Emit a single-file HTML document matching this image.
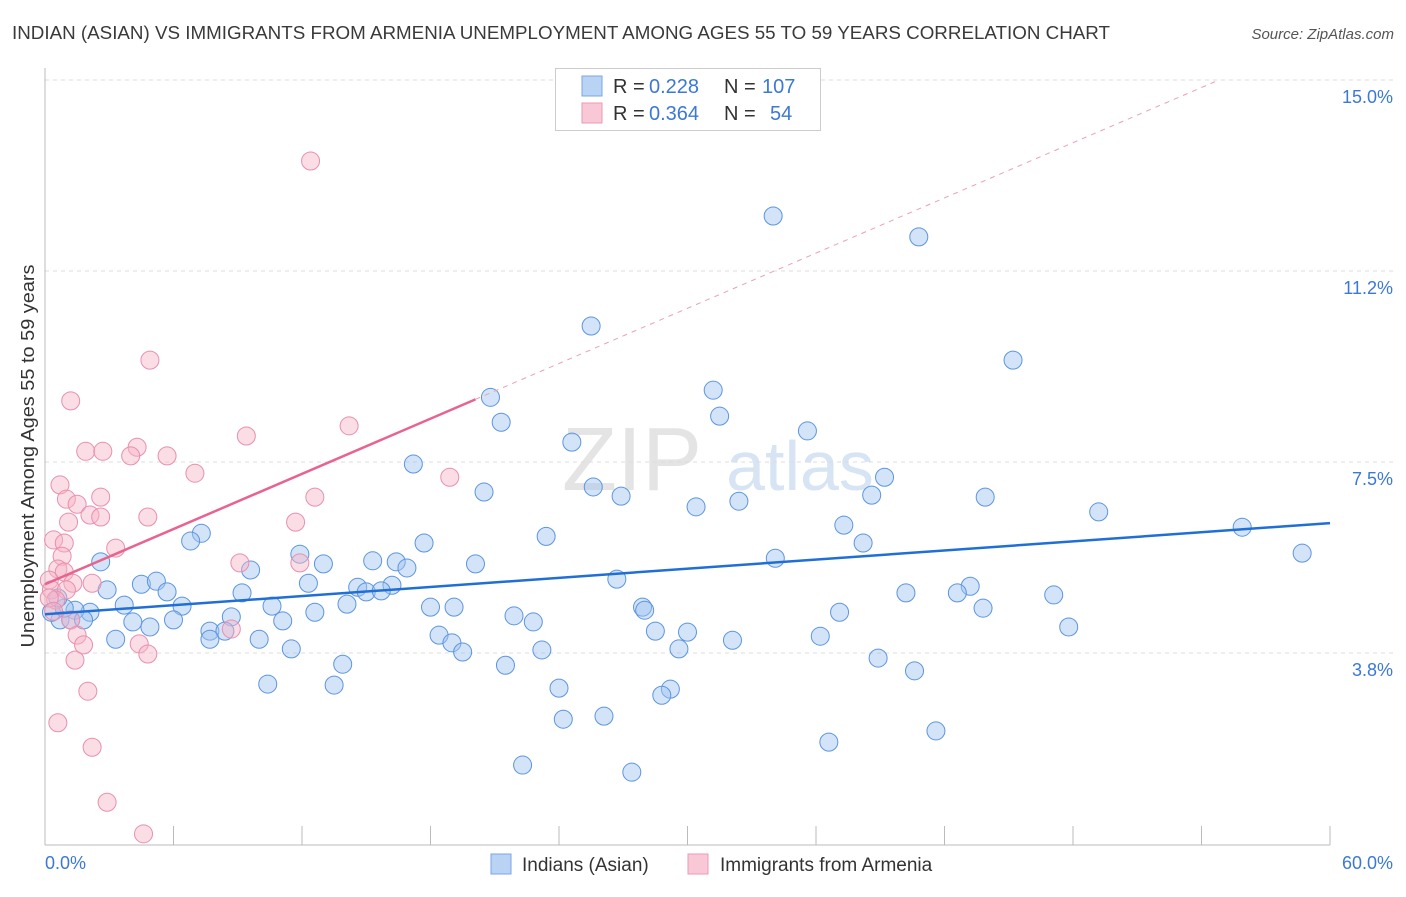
<!DOCTYPE html>
<html><head><meta charset="utf-8"><style>
body{margin:0;background:#fff;font-family:"Liberation Sans",sans-serif}
svg text{font-family:"Liberation Sans",sans-serif}
</style></head><body>
<svg id="c" width="1406" height="892">
<text x="12" y="39" font-size="18" fill="#3a3a3a" textLength="1098" lengthAdjust="spacingAndGlyphs">INDIAN (ASIAN) VS IMMIGRANTS FROM ARMENIA UNEMPLOYMENT AMONG AGES 55 TO 59 YEARS CORRELATION CHART</text>
<text x="1394" y="39" font-size="15" fill="#555" text-anchor="end" font-style="italic">Source: ZipAtlas.com</text>
<text x="632" y="490" font-size="90" fill="#e4e4e4" font-family="Liberation Serif" text-anchor="middle">ZIP</text>
<text x="800" y="490" font-size="70" fill="#d6e4f4" text-anchor="middle">atlas</text>
<g id="grid"></g><g id="pts"></g><g id="lines"></g>
<text transform="translate(34,456) rotate(-90)" font-size="18" fill="#333" text-anchor="middle" textLength="383" lengthAdjust="spacingAndGlyphs">Unemployment Among Ages 55 to 59 years</text>
<text x="45" y="869" font-size="18" fill="#3b78d8">0.0%</text>
<text x="1393" y="869" font-size="18" fill="#3b78d8" text-anchor="end">60.0%</text>
<g>
<rect x="555.5" y="68.5" width="265" height="62" fill="#fff" stroke="#ccc"/>
<rect x="582" y="76" width="20" height="20" fill="#b9d3f5" stroke="#7aa6e6"/>
<text x="613" y="93" font-size="20" fill="#333">R =</text>
<text x="649" y="93" font-size="20" fill="#3b78d8">0.228</text>
<text x="724" y="93" font-size="20" fill="#333">N =</text>
<text x="762" y="93" font-size="20" fill="#3b78d8">107</text>
<rect x="582" y="103" width="20" height="20" fill="#f9c8d7" stroke="#eb9ab5"/>
<text x="613" y="120" font-size="20" fill="#333">R =</text>
<text x="649" y="120" font-size="20" fill="#3b78d8">0.364</text>
<text x="724" y="120" font-size="20" fill="#333">N =</text>
<text x="770" y="120" font-size="20" fill="#3b78d8">54</text>
</g>
<g>
<rect x="491" y="854" width="20" height="20" fill="#b9d3f5" stroke="#7aa6e6"/>
<text x="522" y="871" font-size="19" fill="#333">Indians (Asian)</text>
<rect x="688" y="854" width="20" height="20" fill="#f9c8d7" stroke="#eb9ab5"/>
<text x="720" y="871" font-size="19" fill="#333">Immigrants from Armenia</text>
</g>
</svg>
<script>
const yTicks=[3.8,7.5,11.2,15.0];
const yTickVals=[3.75,7.5,11.25,15];
const xTicks=[0,6,12,18,24,30,36,42,48,54,60];
const blueX=[34.0,40.8,25.5,45.2,20.8,31.2,31.5,21.3,35.6,24.6,17.2,39.2,20.5,25.6,26.9,38.6,43.9,32.4,30.4,49.2,37.3,55.9,23.4,7.3,6.8,17.7,38.2,58.7,11.9,34.1,2.6,13.0,15.3,16.4,16.9,20.1,9.6,26.7,4.5,5.2,12.3,14.6,16.2,43.2,2.9,5.7,9.2,15.0,15.7,40.2,42.6,47.1,3.7,6.4,10.6,14.1,18.0,19.1,27.9,28.0,43.8,37.1,2.1,1.4,12.6,21.9,8.7,6.0,4.1,11.1,22.8,4.9,47.8,7.7,8.4,28.5,30.0,18.4,36.2,3.3,7.7,10.0,32.1,19.0,19.5,11.5,23.2,29.6,38.9,13.9,21.5,40.6,10.4,13.5,24.0,29.2,28.8,24.2,26.1,41.6,36.6,22.3,27.4,0.7,0.3,1.2,1.8,0.9,0.6];
const blueY=[12.33,11.92,10.17,9.50,8.77,8.91,8.40,8.28,8.11,7.89,7.46,7.20,6.91,7.01,6.83,6.85,6.81,6.73,6.62,6.52,6.26,6.22,6.04,6.10,5.95,5.91,5.91,5.71,5.69,5.61,5.54,5.50,5.56,5.54,5.42,5.50,5.38,5.20,5.10,5.16,5.12,5.04,5.08,5.06,4.99,4.95,4.93,4.95,4.97,4.93,4.93,4.89,4.69,4.67,4.67,4.71,4.65,4.65,4.65,4.59,4.63,4.55,4.55,4.59,4.55,4.48,4.46,4.40,4.36,4.38,4.36,4.26,4.26,4.18,4.18,4.18,4.16,4.10,4.08,4.02,4.02,4.02,4.00,3.95,3.77,3.83,3.81,3.83,3.65,3.53,3.51,3.40,3.14,3.12,3.06,3.04,2.92,2.45,2.51,2.22,2.00,1.55,1.41,4.40,4.55,4.40,4.40,4.63,4.83];
const pinkX=[12.4,4.9,1.2,14.2,9.4,1.9,2.7,4.3,4.0,5.7,7.0,18.9,0.7,1.0,1.5,2.6,12.6,2.1,2.6,4.8,1.1,11.7,0.4,0.9,3.3,9.1,11.9,0.8,0.6,0.9,0.2,1.3,2.2,0.3,1.0,0.5,0.2,1.2,1.5,1.8,8.7,4.4,4.8,1.4,2.0,0.6,2.2,2.9,4.6,0.4];
const pinkY=[13.41,9.50,8.70,8.21,8.01,7.71,7.71,7.79,7.62,7.62,7.28,7.20,7.05,6.77,6.67,6.81,6.81,6.46,6.42,6.42,6.32,6.32,5.97,5.91,5.81,5.52,5.52,5.65,5.40,5.34,5.18,5.12,5.12,4.99,4.99,4.79,4.83,4.40,4.10,3.91,4.22,3.93,3.73,3.61,3.00,2.38,1.90,0.82,0.20,4.57];
const blueTrend=[4.51,6.30];
const pinkTrend=[5.1,8.73,20.1];
const NS='http://www.w3.org/2000/svg';
const X=v=>45+v/60*1285, Y=v=>844-v/15*764;
function mk(t,a,p){const e=document.createElementNS(NS,t);for(const k in a)e.setAttribute(k,a[k]);p.appendChild(e);return e;}
const grid=document.getElementById('grid');
yTickVals.forEach((v,i)=>{
 const l=mk('line',{x1:45,x2:1393,y1:Y(v),y2:Y(v),stroke:'#ddd','stroke-dasharray':'4,4'},grid);
 
 
 const t=mk('text',{x:1393,y:Y(v)+23,'font-size':18,fill:'#3b78d8','text-anchor':'end'},grid);
 t.textContent=yTicks[i].toFixed(1)+'%';
 
 
});
const ax=mk('line',{x1:45,x2:45,y1:68,y2:845,stroke:'#bbb'},grid);


const bx=mk('line',{x1:45,x2:1330,y1:845,y2:845,stroke:'#bbb'},grid);


xTicks.forEach(v=>{
 const l=mk('line',{x1:X(v),x2:X(v),y1:826,y2:845,stroke:'#bbb'},grid);
 
 
});
const pts=document.getElementById('pts');
blueX.forEach((v,i)=>{
 const c=mk('circle',{cx:X(v),cy:Y(blueY[i]),r:9,fill:'rgba(160,196,240,0.45)',stroke:'#5b95e0','stroke-width':1},pts);
 
 
});
pinkX.forEach((v,i)=>{
 const c=mk('circle',{cx:X(v),cy:Y(pinkY[i]),r:9,fill:'rgba(246,180,200,0.45)',stroke:'#e890ad','stroke-width':1},pts);
 
 
});
const lines=document.getElementById('lines');
const bl=mk('line',{x1:X(0),y1:Y(blueTrend[0]),x2:X(60),y2:Y(blueTrend[1]),stroke:'#1f6fd6','stroke-width':2.5},lines);


const slope=(pinkTrend[1]-pinkTrend[0])/pinkTrend[2];
const xe=(15-pinkTrend[0])/slope;
const pd=mk('line',{x1:X(pinkTrend[2]),y1:Y(pinkTrend[1]),x2:X(xe),y2:Y(15),stroke:'#e8a0b8','stroke-width':1,'stroke-dasharray':'5,5'},lines);


const pl=mk('line',{x1:X(0),y1:Y(pinkTrend[0]),x2:X(pinkTrend[2]),y2:Y(pinkTrend[1]),stroke:'#e8638f','stroke-width':2.5},lines);


</script>
</body></html>
